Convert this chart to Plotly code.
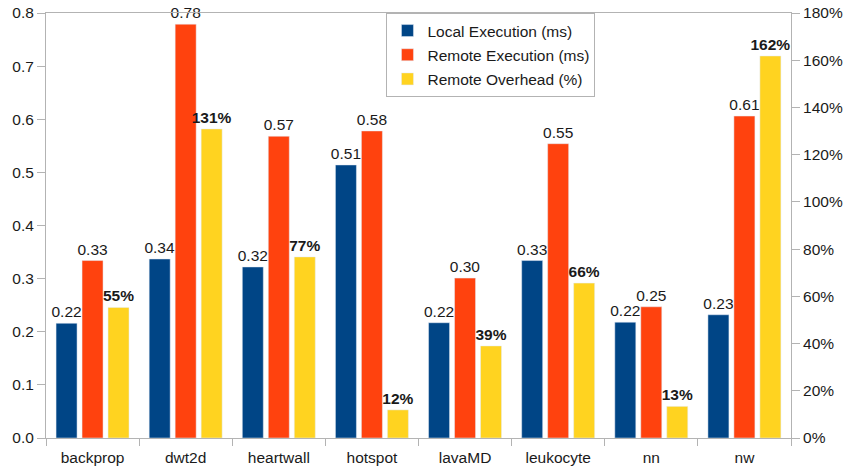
import plotly.graph_objects as go

# Benchmarks and measurements
benchmarks = ["backprop", "dwt2d", "heartwall", "hotspot", "lavaMD", "leukocyte", "nn", "nw"]
local_ms = [0.216, 0.337, 0.322, 0.514, 0.217, 0.334, 0.218, 0.232]
remote_ms = [0.334, 0.779, 0.568, 0.578, 0.301, 0.554, 0.247, 0.606]
overhead_pct = [0.553, 1.309, 0.767, 0.119, 0.390, 0.656, 0.134, 1.618]

left_ticks = [0.0, 0.1, 0.2, 0.3, 0.4, 0.5, 0.6, 0.7, 0.8]
right_ticks = [0.0, 0.2, 0.4, 0.6, 0.8, 1.0, 1.2, 1.4, 1.6, 1.8]

FONT = "Liberation Sans, Arial, sans-serif"
FS = 15.5
AXIS_GRAY = "#b3b3b3"
TXT = "#1a1a1a"

bar_w = 0.2255
offsets = [-0.392, -0.113, 0.166]

fig = go.Figure()
fig.add_trace(go.Bar(
    x=benchmarks, y=local_ms, name="Local Execution (ms)",
    marker_color="#004586", width=bar_w, offset=offsets[0],
    text=local_ms, texttemplate="%{y:.2f}", textposition="outside",
    constraintext="none", cliponaxis=False,
    textfont=dict(family=FONT, size=FS, color=TXT),
    legendgroup="a", yaxis="y",
))
fig.add_trace(go.Bar(
    x=benchmarks, y=remote_ms, name="Remote Execution (ms)",
    marker_color="#ff420e", width=bar_w, offset=offsets[1],
    text=remote_ms, texttemplate="%{y:.2f}", textposition="outside",
    constraintext="none", cliponaxis=False,
    textfont=dict(family=FONT, size=FS, color=TXT),
    legendgroup="b", yaxis="y",
))
fig.add_trace(go.Bar(
    x=benchmarks, y=overhead_pct, name="Remote Overhead (%)",
    marker_color="#ffd320", width=bar_w, offset=offsets[2],
    text=overhead_pct, texttemplate="<b>%{y:.0%}</b>", textposition="outside",
    constraintext="none", cliponaxis=False,
    textfont=dict(family=FONT, size=FS, color=TXT),
    legendgroup="c", yaxis="y2",
))

fig.update_layout(
    width=843, height=470,
    margin=dict(l=46, r=52, t=13, b=32),
    paper_bgcolor="white", plot_bgcolor="white",
    font=dict(family=FONT, size=FS, color=TXT),
    barmode="overlay",
    xaxis=dict(
        showline=True, linecolor=AXIS_GRAY, linewidth=1, mirror=True,
        ticks="outside", tickson="boundaries", ticklen=7, tickcolor=AXIS_GRAY,
        showgrid=False, tickfont=dict(size=FS), ticklabelstandoff=5,
        automargin=False,
    ),
    yaxis=dict(
        range=[0, 0.8], tickvals=left_ticks, tickformat=".1f",
        showline=True, linecolor=AXIS_GRAY, linewidth=1,
        ticks="outside", ticklen=8, tickcolor=AXIS_GRAY,
        showgrid=False, zeroline=False, tickfont=dict(size=FS),
        automargin=False,
    ),
    yaxis2=dict(
        range=[0, 1.8], tickvals=right_ticks, tickformat=".0%",
        overlaying="y", side="right",
        showline=True, linecolor=AXIS_GRAY, linewidth=1,
        ticks="outside", ticklen=8, tickcolor=AXIS_GRAY,
        showgrid=False, zeroline=False, tickfont=dict(size=FS),
        automargin=False,
    ),
    legend=dict(
        x=0.457, y=1.0, xanchor="left", yanchor="top",
        bgcolor="white", bordercolor=AXIS_GRAY, borderwidth=1,
        font=dict(size=FS), traceorder="grouped", tracegroupgap=1,
        itemwidth=30,
    ),
    showlegend=True,
)

fig.write_html("out.html")
